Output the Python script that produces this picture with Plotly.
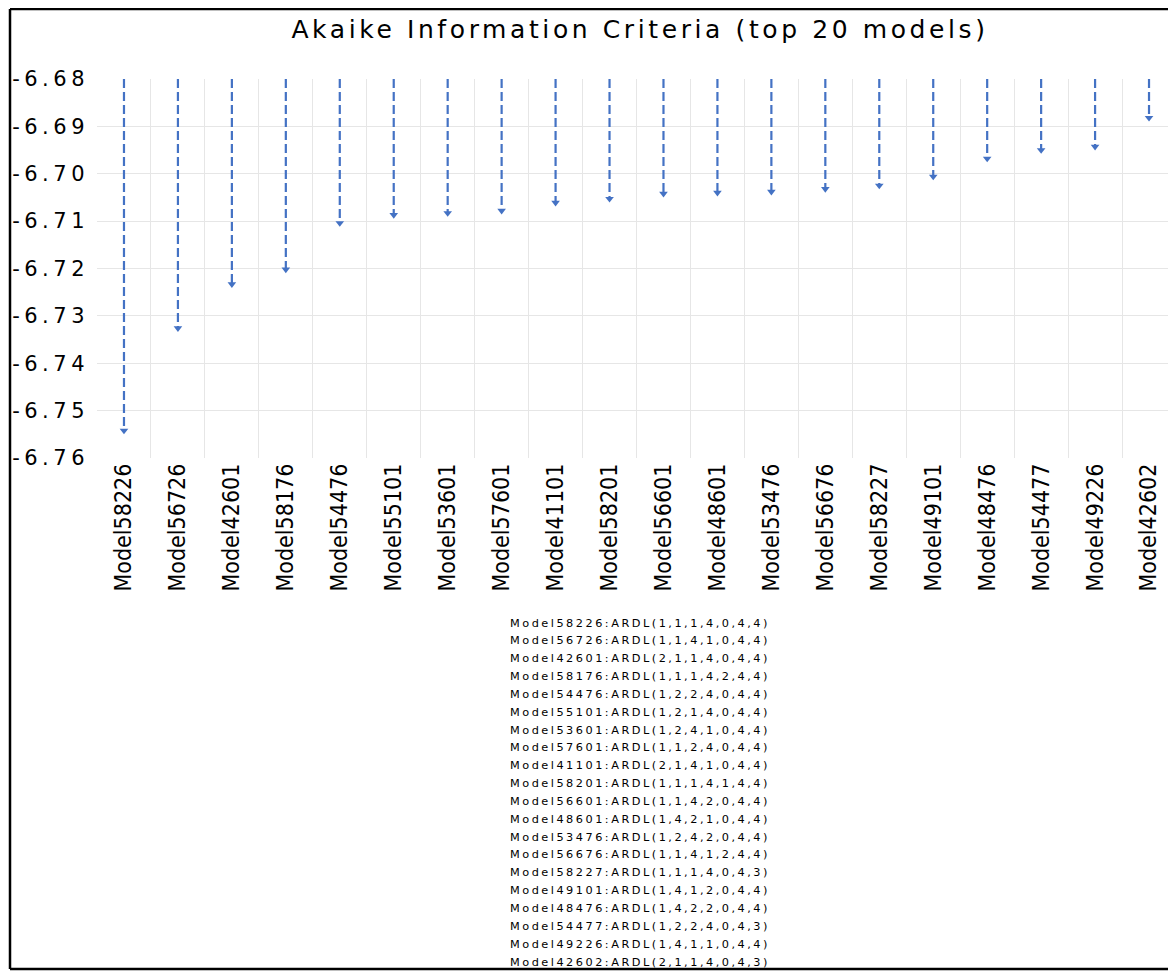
import plotly.graph_objects as go

# ---------------- data ----------------
models = ["Model58226", "Model56726", "Model42601", "Model58176", "Model54476",
          "Model55101", "Model53601", "Model57601", "Model41101", "Model58201",
          "Model56601", "Model48601", "Model53476", "Model56676", "Model58227",
          "Model49101", "Model48476", "Model54477", "Model49226", "Model42602"]
aic = [-6.7542, -6.7326, -6.7233, -6.7202, -6.7104,
       -6.7087, -6.7083, -6.7078, -6.7061, -6.7053,
       -6.7042, -6.7040, -6.7038, -6.7032, -6.7025,
       -6.7006, -6.6968, -6.6950, -6.6943, -6.6882]
specs = ["ARDL(1,1,1,4,0,4,4)", "ARDL(1,1,4,1,0,4,4)", "ARDL(2,1,1,4,0,4,4)",
         "ARDL(1,1,1,4,2,4,4)", "ARDL(1,2,2,4,0,4,4)", "ARDL(1,2,1,4,0,4,4)",
         "ARDL(1,2,4,1,0,4,4)", "ARDL(1,1,2,4,0,4,4)", "ARDL(2,1,4,1,0,4,4)",
         "ARDL(1,1,1,4,1,4,4)", "ARDL(1,1,4,2,0,4,4)", "ARDL(1,4,2,1,0,4,4)",
         "ARDL(1,2,4,2,0,4,4)", "ARDL(1,1,4,1,2,4,4)", "ARDL(1,1,1,4,0,4,3)",
         "ARDL(1,4,1,2,0,4,4)", "ARDL(1,4,2,2,0,4,4)", "ARDL(1,2,2,4,0,4,3)",
         "ARDL(1,4,1,1,0,4,4)", "ARDL(2,1,1,4,0,4,3)"]
y_ticks = [-6.68, -6.69, -6.70, -6.71, -6.72, -6.73, -6.74, -6.75, -6.76]
y_tick_labels = ["-6.68", "-6.69", "-6.70", "-6.71", "-6.72", "-6.73", "-6.74", "-6.75", "-6.76"]
axis_top = -6.68
axis_bottom = -6.76
title_text = "Akaike Information Criteria (top 20 models)"

# ---------------- styling ----------------
BLUE = "rgb(68,114,196)"
GRID = "#e6e6e6"
OFF = 8                      # page body margin of the browser
W, H = 1176 - OFF, 971 - OFF  # figure size so it fits in the window
# target positions in window pixels
PL, PR, PT, PB = 97, 1176, 79, 458
L, T = PL - OFF, PT - OFF
R = W - (PR - OFF)
B = H - (PB - OFF)
plot_w = W - L - R
plot_h = H - T - B


def px_x(x):
    return (x - OFF - L) / plot_w


def px_y(y):
    return (H - B - (y - OFF)) / plot_h


xs, ys = [], []
for m, v in zip(models, aic):
    xs += [m, m, None]
    ys += [axis_top, v, None]

fig = go.Figure()
fig.add_trace(go.Scatter(
    x=xs, y=ys, mode="lines",
    line=dict(color=BLUE, width=2.2, dash="9px,4px"),
    hoverinfo="skip", showlegend=False))
fig.add_trace(go.Scatter(
    x=models, y=aic, mode="markers",
    marker=dict(symbol="triangle-down", size=7.5, color=BLUE),
    showlegend=False))

ticktext = ['<span style="letter-spacing:4.5px">%s</span>' % t for t in y_tick_labels]

fig.update_layout(
    width=W, height=H,
    margin=dict(l=L, r=R, t=T, b=B, pad=0),
    paper_bgcolor="white", plot_bgcolor="white",
    title=dict(
        text='<span style="letter-spacing:3.6px">%s</span>' % title_text,
        font=dict(family="DejaVu Sans", size=25, color="black"),
        x=(640 - OFF) / W, xanchor="center", xref="container",
        y=1 - (29 - OFF) / H, yanchor="middle", yref="container"),
    xaxis=dict(
        type="category", categoryorder="array", categoryarray=models,
        range=[-0.5, len(models) - 0.5],
        tickson="boundaries", showgrid=True, gridcolor=GRID, gridwidth=1,
        tickangle=-90, ticks="", showline=False, zeroline=False,
        tickfont=dict(family="Liberation Sans Narrow, DejaVu Sans Condensed, Arial Narrow, sans-serif",
                      size=23, color="black"),
        ticklabelstandoff=0),
    yaxis=dict(
        range=[axis_bottom, axis_top],
        tickvals=y_ticks, ticktext=ticktext,
        showgrid=True, gridcolor=GRID, gridwidth=1,
        zeroline=False, showline=False, ticks="",
        tickfont=dict(family="DejaVu Sans", size=21, color="black"),
        ticklabelstandoff=7),
)

# model specification list below the chart
first_y, last_y = 623, 962
step = (last_y - first_y) / (len(models) - 1)
for i, (m, s) in enumerate(zip(models, specs)):
    ypx = first_y + i * step
    fig.add_annotation(
        text='<span style="letter-spacing:2.5px">%s:%s</span>' % (m, s),
        xref="paper", yref="paper",
        x=px_x(640), y=px_y(ypx),
        xanchor="center", yanchor="middle", showarrow=False,
        font=dict(family="DejaVu Sans", size=11.3, color="black"))

# frame lines around the picture (left, top, bottom)
frame = [((10, 9), (10, 969)), ((10, 9), (1176, 9)), ((10, 969), (1176, 969))]
for (xa, ya), (xb, yb) in frame:
    fig.add_shape(type="line", xref="paper", yref="paper",
                  x0=px_x(xa), x1=px_x(xb), y0=px_y(ya), y1=px_y(yb),
                  line=dict(color="black", width=2.5), layer="above")

fig.write_html("out.html")
